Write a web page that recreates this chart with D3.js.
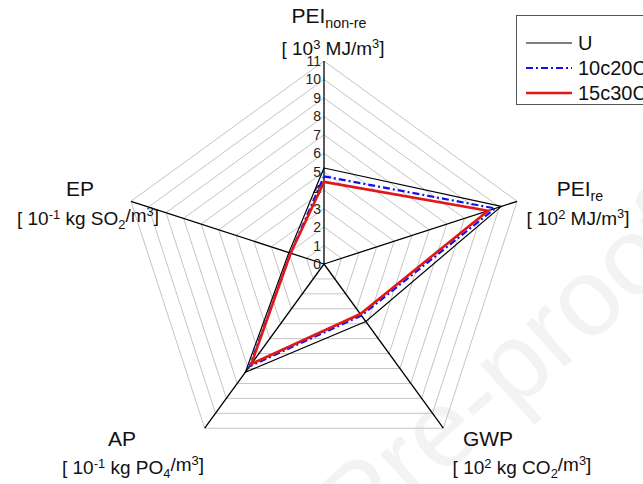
<!DOCTYPE html>
<html>
<head>
<meta charset="utf-8">
<script src="https://cdn.jsdelivr.net/npm/d3@7"></script>
<style>
  body { margin: 0; background: #fff; }
  svg { font-family: "Liberation Sans", Arial, sans-serif; }
</style>
</head>
<body>
<svg id="chart" width="643" height="484"></svg>
<script>
// ---- data ----
const axisKeys = ['PEInr', 'PEIre', 'GWP', 'AP', 'EP'];
const tickValues = [0, 1, 2, 3, 4, 5, 6, 7, 8, 9, 10, 11];
const seriesNames = ['U', '10c20C', '15c30C'];
const valuesU = [5.2, 10.1, 3.85, 7.25, 2.0];
const values10c20C = [4.75, 9.75, 3.45, 6.85, 1.9];
const values15c30C = [4.45, 9.35, 3.35, 6.7, 1.9];

// ---- layout ----
const svg = d3.select('#chart');
const cx = 324, cy = 264;
const r = d3.scaleLinear().domain([0, 11]).range([0, 203]);
const angle = d3.scalePoint().domain(axisKeys.concat('_end')).range([0, 2 * Math.PI]);
const pt = (key, v) => {
  const a = angle(key);
  return [cx + r(v) * Math.sin(a), cy - r(v) * Math.cos(a)];
};

// faint watermark
svg.append('text')
  .attr('transform', 'translate(700,245) rotate(-42)')
  .attr('text-anchor', 'end')
  .attr('font-size', 110)
  .attr('fill', '#f3f3f3')
  .text('Journal Pre-proof');

const g = svg.append('g');

// grid rings
g.selectAll('path.ring')
  .data(tickValues.slice(1))
  .join('path')
  .attr('class', 'ring')
  .attr('fill', 'none')
  .attr('stroke', '#c4c4c4')
  .attr('stroke-width', 1)
  .attr('d', v => d3.line()(axisKeys.map(k => pt(k, v))) + 'Z');

// axes
g.selectAll('line.axis')
  .data(axisKeys)
  .join('line')
  .attr('class', 'axis')
  .attr('x1', cx).attr('y1', cy)
  .attr('x2', k => pt(k, 11)[0])
  .attr('y2', k => pt(k, 11)[1])
  .attr('stroke', '#000')
  .attr('stroke-width', 1.3);

// tick labels on the top axis
g.selectAll('text.tick')
  .data(tickValues)
  .join('text')
  .attr('class', 'tick')
  .attr('x', cx - 3)
  .attr('y', v => pt('PEInr', v)[1] + 5)
  .attr('text-anchor', 'end')
  .attr('font-size', 14)
  .attr('fill', '#222')
  .text(d => d);

// series
const series = [
  { name: seriesNames[0], values: valuesU, color: '#000', width: 1.2, dash: null },
  { name: seriesNames[1], values: values10c20C, color: '#1010ee', width: 2.2, dash: '7,3,2,3' },
  { name: seriesNames[2], values: values15c30C, color: '#e01818', width: 2.6, dash: null }
];

g.selectAll('path.series')
  .data(series)
  .join('path')
  .attr('class', 'series')
  .attr('fill', 'none')
  .attr('stroke', d => d.color)
  .attr('stroke-width', d => d.width)
  .attr('stroke-dasharray', d => d.dash)
  .attr('stroke-linejoin', 'miter')
  .attr('d', d => d3.line()(axisKeys.map((k, i) => pt(k, d.values[i]))) + 'Z');

// axis titles
function label(x, y, size, parts) {
  const t = svg.append('text')
    .attr('x', x).attr('y', y)
    .attr('text-anchor', 'middle')
    .attr('font-size', size)
    .attr('fill', '#111');
  parts.forEach(p => {
    const s = t.append('tspan').text(p.t);
    if (p.sub) s.attr('font-size', size * 0.68).attr('dy', '0.35em');
    if (p.sup) s.attr('font-size', size * 0.68).attr('dy', '-0.5em');
    if (p.back) s.attr('dy', p.back);
  });
}

label(329, 23, 21, [{ t: 'PEI' }, { t: 'non-re', sub: true }]);
label(333, 55, 19, [{ t: '[ 10' }, { t: '3', sup: true }, { t: ' MJ/m', back: '0.32em' }, { t: '3', sup: true }, { t: ']', back: '0.32em' }]);

label(580, 196, 21, [{ t: 'PEI' }, { t: 're', sub: true }]);
label(578, 225, 19, [{ t: '[ 10' }, { t: '2', sup: true }, { t: ' MJ/m', back: '0.32em' }, { t: '3', sup: true }, { t: ']', back: '0.32em' }]);

label(80, 196, 21, [{ t: 'EP' }]);
label(88, 225, 19, [{ t: '[ 10' }, { t: '-1', sup: true }, { t: ' kg SO', back: '0.32em' }, { t: '2', sub: true }, { t: '/m', back: '-0.35em' }, { t: '3', sup: true }, { t: ']', back: '0.32em' }]);

label(122, 446, 21, [{ t: 'AP' }]);
label(133, 474, 19, [{ t: '[ 10' }, { t: '-1', sup: true }, { t: ' kg PO', back: '0.32em' }, { t: '4', sub: true }, { t: '/m', back: '-0.35em' }, { t: '3', sup: true }, { t: ']', back: '0.32em' }]);

label(488, 446, 21, [{ t: 'GWP' }]);
label(522, 474, 19, [{ t: '[ 10' }, { t: '2', sup: true }, { t: ' kg CO', back: '0.32em' }, { t: '2', sub: true }, { t: '/m', back: '-0.35em' }, { t: '3', sup: true }, { t: ']', back: '0.32em' }]);

// legend
const legend = svg.append('g');
legend.append('rect')
  .attr('x', 516.5).attr('y', 15.5)
  .attr('width', 140).attr('height', 89)
  .attr('fill', '#fff')
  .attr('stroke', '#555')
  .attr('stroke-width', 1);
const ly = d3.scalePoint().domain(seriesNames).range([43, 93]);
const items = legend.selectAll('g.item').data(series).join('g').attr('class', 'item');
items.append('line')
  .attr('x1', 526).attr('x2', 572)
  .attr('y1', d => ly(d.name)).attr('y2', d => ly(d.name))
  .attr('stroke', d => d.color)
  .attr('stroke-width', d => d.width)
  .attr('stroke-dasharray', d => d.dash);
items.append('text')
  .attr('x', 578)
  .attr('y', d => ly(d.name) + 7)
  .attr('font-size', 20)
  .attr('fill', '#111')
  .text(d => d.name);
</script>
</body>
</html>
